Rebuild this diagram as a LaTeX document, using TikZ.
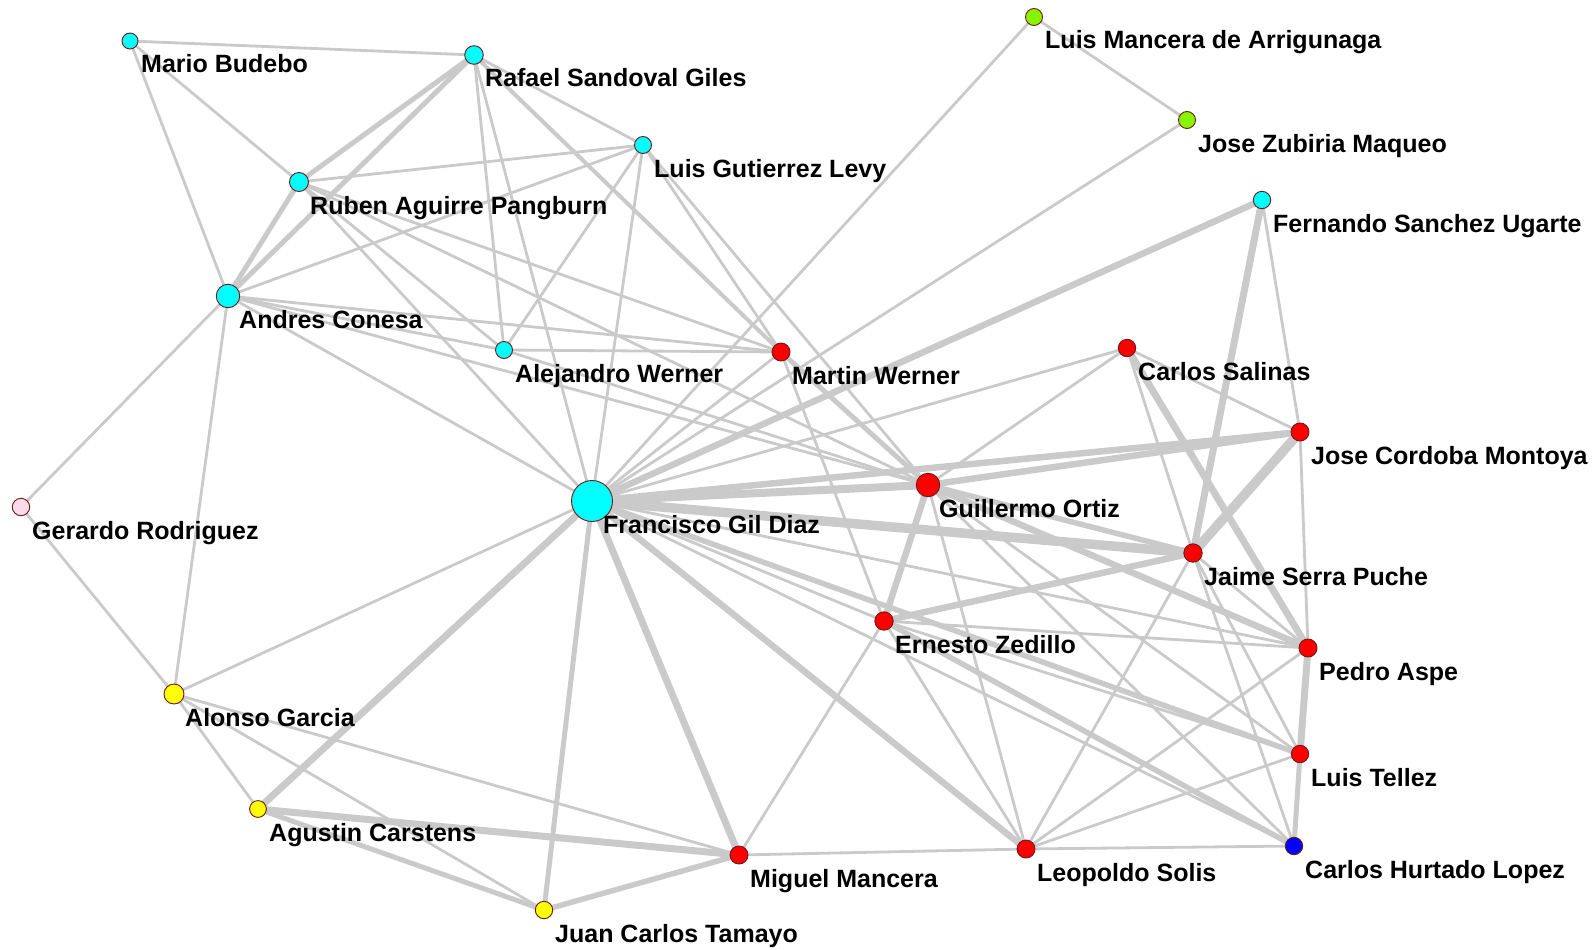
\documentclass[tikz,border=0pt]{standalone}
\usepackage{fontspec}
\setmainfont{Liberation Sans}
\pgfdeclarelayer{background}
\pgfsetlayers{background,main}
\definecolor{edgegray}{RGB}{202,202,202}
\definecolor{rim}{RGB}{110,25,25}
\definecolor{cy}{RGB}{0,255,255}
\definecolor{rd}{RGB}{255,0,0}
\definecolor{gr}{RGB}{135,245,0}
\definecolor{yl}{RGB}{255,255,0}
\definecolor{pk}{RGB}{255,218,235}
\definecolor{bl}{RGB}{0,0,255}
\tikzset{
  vert/.style={circle, draw=rim, line width=0.9pt, inner sep=0pt},
  lab/.style={anchor=base west, inner sep=0pt, font=\fontsize{25}{30}\selectfont\bfseries},
  ed/.style={draw=edgegray, line cap=round},
  w1/.style={ed, line width=2.8pt},
  w2/.style={ed, line width=4pt},
  w3/.style={ed, line width=5pt},
  w35/.style={ed, line width=5.5pt},
  w4/.style={ed, line width=6.5pt},
  w45/.style={ed, line width=7pt},
  w5/.style={ed, line width=8pt},
  w6/.style={ed, line width=9.5pt},
}
\newcommand{\person}[6]{%
  \node[vert, fill=#4, minimum size=#5pt] (#1) at (#2,#3) {};
  \node[lab] (#1-l) at ([shift={(11,32)}]#1.center) {#6};
}
\begin{document}
\begin{tikzpicture}[x=1pt, y=-1pt]
\useasboundingbox (0,0) rectangle (1596,950);

% people
\person{mb}{130}{41}{cy}{16}{Mario Budebo}
\person{rs}{474}{55}{cy}{18.6}{Rafael Sandoval Giles}
\person{lg}{643}{145}{cy}{17}{Luis Gutierrez Levy}
\person{ra}{299}{182}{cy}{19}{Ruben Aguirre Pangburn}
\person{ac}{228}{296}{cy}{23.5}{Andres Conesa}
\person{aw}{504}{350}{cy}{17}{Alejandro Werner}
\person{mw}{781}{352}{rd}{18}{Martin Werner}
\person{lm}{1034}{17}{gr}{17}{Luis Mancera de Arrigunaga}
\person{jz}{1187}{120}{gr}{17}{Jose Zubiria Maqueo}
\person{fs}{1262}{200}{cy}{17.4}{Fernando Sanchez Ugarte}
\person{cs}{1127}{348}{rd}{17.4}{Carlos Salinas}
\person{jc}{1300}{432}{rd}{18}{Jose Cordoba Montoya}
\person{gd}{21}{507}{pk}{17.4}{Gerardo Rodriguez}
\person{fg}{592}{501}{cy}{41}{Francisco Gil Diaz}
\person{go}{928}{485}{rd}{23.5}{Guillermo Ortiz}
\person{js}{1193}{553}{rd}{18.4}{Jaime Serra Puche}
\person{ez}{884}{621}{rd}{18.4}{Ernesto Zedillo}
\person{pa}{1308}{648}{rd}{18}{Pedro Aspe}
\person{ag}{174}{694}{yl}{20}{Alonso Garcia}
\person{lt}{1300}{754}{rd}{17.4}{Luis Tellez}
\person{at}{258}{809}{yl}{16.8}{Agustin Carstens}
\person{mm}{739}{855}{rd}{18}{Miguel Mancera}
\person{ls}{1026}{849}{rd}{18}{Leopoldo Solis}
\person{ch}{1294}{846}{bl}{17.4}{Carlos Hurtado Lopez}
\person{jt}{544}{910}{yl}{17.4}{Juan Carlos Tamayo}

% ties, weighted by line width
\begin{pgfonlayer}{background}
\foreach \a/\b/\w in {
  mb/rs/w1, mb/ra/w1, mb/ac/w1,
  rs/ra/w3, rs/ac/w3, rs/lg/w1, rs/aw/w1, rs/fg/w1, rs/mw/w2,
  lg/ra/w1, lg/ac/w1, lg/aw/w1, lg/fg/w1, lg/mw/w1, lg/go/w1,
  ra/ac/w3, ra/aw/w1, ra/fg/w1, ra/mw/w1, ra/go/w1,
  ac/gd/w1, ac/ag/w1, ac/fg/w1, ac/aw/w1, ac/mw/w1, ac/go/w1,
  aw/mw/w1, aw/go/w1,
  mw/go/w3, mw/ez/w1, mw/fg/w1,
  gd/ag/w1, ag/fg/w1, ag/at/w1, ag/jt/w1, ag/mm/w1,
  at/fg/w45, at/mm/w45, at/jt/w3,
  jt/fg/w3, jt/mm/w35,
  mm/fg/w45, mm/ez/w1, mm/ls/w1,
  lm/jz/w1, lm/fg/w1, jz/fg/w1,
  fs/fg/w4, fs/js/w45, fs/jc/w1,
  cs/fg/w1, cs/go/w1, cs/jc/w1, cs/pa/w45, cs/js/w1,
  jc/fg/w4, jc/go/w4, jc/js/w6, jc/pa/w1,
  fg/go/w5, fg/js/w6, fg/ez/w1, fg/pa/w1, fg/lt/w35, fg/ch/w1, fg/ls/w4,
  go/js/w35, go/ez/w4, go/pa/w4, go/lt/w1, go/ch/w1, go/ls/w1,
  js/ez/w4, js/ls/w1, js/lt/w1, js/ch/w1, js/pa/w1,
  ez/pa/w1, ez/lt/w1, ez/ch/w35, ez/ls/w1,
  pa/lt/w45, pa/ls/w1,
  lt/ch/w3, lt/ls/w1,
  ch/ls/w1}
  {\draw[\w] (\a.center) -- (\b.center);}
\end{pgfonlayer}
\end{tikzpicture}
\end{document}
